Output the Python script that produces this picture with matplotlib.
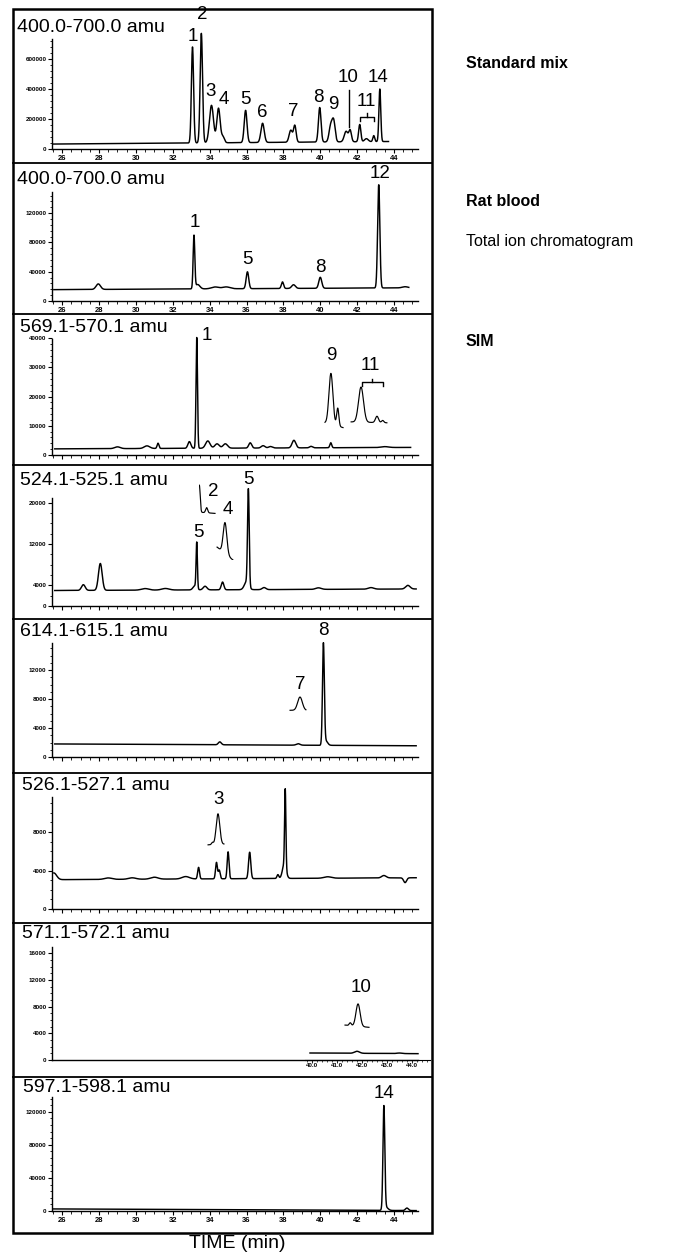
import numpy as np
import matplotlib
matplotlib.use("Agg")
import matplotlib.pyplot as plt
from matplotlib.ticker import FixedLocator, MultipleLocator, NullLocator
from matplotlib.lines import Line2D
from matplotlib.patches import Rectangle

plt.rcParams['font.family'] = ['Liberation Sans', 'DejaVu Sans']

W, H = 676, 1253

# ---------------- data ----------------
TITLES = ['400.0-700.0 amu', '400.0-700.0 amu', '569.1-570.1 amu', '524.1-525.1 amu',
          '614.1-615.1 amu', '526.1-527.1 amu', '571.1-572.1 amu', '597.1-598.1 amu']
SIDE_TEXT = ['Standard mix', 'Rat blood', 'Total ion chromatogram', 'SIM']
TIME_TICKS = [26, 28, 30, 32, 34, 36, 38, 40, 42, 44]
ZOOM_TICKS = [40.0, 41.0, 42.0, 43.0, 44.0]

# peak tables: retention time (min), height above baseline, sigma (min)
# 1) standard mix, total ion
P1_T = [33.07, 33.55, 34.10, 34.48, 34.72, 35.95, 36.87, 38.40, 38.62, 39.97,
        40.57, 40.73, 41.40, 41.62, 42.14, 42.50, 42.90, 43.23]
P1_H = [640000, 730000, 250000, 230000, 40000, 215000, 128000, 80000, 110000, 230000,
        110000, 130000, 70000, 75000, 115000, 20000, 40000, 350000]
P1_W = [0.06, 0.065, 0.11, 0.09, 0.08, 0.075, 0.09, 0.09, 0.07, 0.07,
        0.09, 0.08, 0.1, 0.07, 0.06, 0.1, 0.05, 0.05]
P1_BASE = [33000, 50000]
P1_SPAN = [25.5, 43.7]
P1_YTICKS = [0, 200000, 400000, 600000]
P1_LABELS = ['1', '2', '3', '4', '5', '6', '7', '8', '9', '10', '11', '14']
P1_LAB_T = [33.07, 33.61, 34.04, 34.75, 35.95, 36.87, 38.55, 39.91, 40.73, 41.49, 42.47, 43.12]
P1_LAB_Y = [746700, 893400, 380000, 326700, 326700, 240000, 246700, 340000, 293300,
            473300, 313300, 473300]

# 2) rat blood, total ion
P2_T = [27.96, 33.15, 33.35, 34.3, 34.9, 36.05, 37.95, 38.55, 40.0, 43.17, 44.6]
P2_H = [7500, 72000, 6000, 2500, 2500, 23000, 9000, 5000, 15000, 141000, 1500]
P2_W = [0.12, 0.045, 0.12, 0.2, 0.2, 0.07, 0.06, 0.1, 0.08, 0.06, 0.15]
P2_BASE = [15500, 18000]
P2_SPAN = [25.55, 44.8]
P2_YTICKS = [0, 40000, 80000, 120000]
P2_LABELS = ['1', '5', '8', '12']
P2_LAB_T = [33.17, 36.05, 40.02, 43.23]
P2_LAB_Y = [106500, 56000, 46400, 174700]

# 3) SIM 569.1-570.1
P3_T = [29.0, 30.6, 31.2, 32.9, 33.3, 33.9, 34.4, 34.85, 36.2, 36.9, 37.3, 38.57, 39.5, 40.57, 43.5]
P3_H = [600, 900, 1800, 2300, 38000, 2500, 1500, 1500, 1800, 800, 500, 2600, 500, 1700, 300]
P3_W = [0.15, 0.15, 0.05, 0.08, 0.04, 0.12, 0.12, 0.12, 0.08, 0.1, 0.1, 0.1, 0.08, 0.05, 0.2]
P3_BASE = [2100, 2600]
P3_SPAN = [25.6, 44.9]
P3_YTICKS = [0, 10000, 20000, 30000, 40000]
P3_LABELS = ['1', '9', '11']
P3_LAB_T = [33.86, 40.62, 42.74]
P3_LAB_Y = [41000, 34150, 30700]

# 4) SIM 524.1-525.1
P4_T = [27.15, 28.07, 30.5, 31.6, 33.2, 33.3, 33.75, 34.7, 36.0, 36.1, 36.95, 39.9, 42.75, 44.75]
P4_H = [1100, 5200, 300, 300, 800, 8800, 700, 1500, 1500, 18500, 400, 300, 300, 700]
P4_W = [0.1, 0.1, 0.2, 0.2, 0.1, 0.035, 0.1, 0.07, 0.12, 0.045, 0.1, 0.15, 0.15, 0.12]
P4_BASE = [3000, 3300]
P4_SPAN = [25.6, 45.2]
P4_YTICKS = [0, 4000, 12000, 20000]
P4_LABELS = ['5', '5', '2', '4']
P4_LAB_T = [33.39, 36.1, 34.2, 35.0]
P4_LAB_Y = [14300, 24400, 22100, 18600]

# 5) SIM 614.1-615.1
P5_T = [34.55, 38.8, 40.17, 40.3]
P5_H = [400, 200, 13900, 600]
P5_W = [0.08, 0.1, 0.05, 0.1]
P5_BASE = [1800, 1550]
P5_SPAN = [25.6, 45.2]
P5_YTICKS = [0, 4000, 8000, 12000]
P5_LABELS = ['8', '7']
P5_LAB_T = [40.17, 38.93]
P5_LAB_Y = [17430, 9940]

# 6) SIM 526.1-527.1
P6_T = [25.55, 28.5, 29.8, 31.0, 32.7, 33.4, 34.37, 34.52, 35.0, 36.17, 37.7, 38.05, 38.1,
        40.4, 43.45, 44.6]
P6_H = [700, 150, 150, 200, 250, 1200, 1700, 900, 2800, 2750, 400, 1500, 8000, 150, 250, -500]
P6_W = [0.15, 0.2, 0.2, 0.2, 0.2, 0.05, 0.05, 0.05, 0.05, 0.06, 0.05, 0.1, 0.035, 0.2, 0.12, 0.08]
P6_BASE = [3050, 3250]
P6_SPAN = [25.55, 45.2]
P6_YTICKS = [0, 4000, 8000]
P6_LABELS = ['3']
P6_LAB_T = [34.48]
P6_LAB_Y = [11340]

# 7) SIM 571.1-572.1 (only recorded 40-44 min)
P7_T = [41.8, 43.5]
P7_H = [300, 80]
P7_W = [0.1, 0.1]
P7_BASE = [1050, 950]
P7_SPAN = [39.92, 44.24]
P7_YTICKS = [0, 4000, 8000, 12000, 16000]
P7_LABELS = ['10']
P7_LAB_T = [42.2]
P7_LAB_Y = [10800]

# 8) SIM 597.1-598.1
P8_T = [43.45, 43.55, 44.7]
P8_H = [124000, 4000, 3000]
P8_W = [0.05, 0.12, 0.08]
P8_BASE = [2500, 500]
P8_SPAN = [25.5, 45.2]
P8_YTICKS = [0, 40000, 80000, 120000]
P8_LABELS = ['14']
P8_LAB_T = [43.45]
P8_LAB_Y = [142600]

# magnified insets (relative units)
IN9_T, IN9_H, IN9_W, IN9_BASE, IN9_SPAN = [0.36, 0.67], [0.85, 0.3], [0.09, 0.05], [0.12, 0.04], [0.09, 0.91]
IN11_T, IN11_H, IN11_W, IN11_BASE, IN11_SPAN = [0.29, 0.71, 0.86], [0.78, 0.14, 0.05], [0.065, 0.04, 0.03], [0.18, 0.16], [0.03, 0.97]
IN2_T, IN2_H, IN2_W, IN2_BASE, IN2_SPAN = [0.02, 0.45], [0.9, 0.17], [0.05, 0.06], [0.06, 0.02], [0.02, 0.94]
IN4_T, IN4_H, IN4_W, IN4_BASE, IN4_SPAN = [0.5], [0.72], [0.1], [0.3, 0.0], [0.06, 0.94]
IN7_T, IN7_H, IN7_W, IN7_BASE, IN7_SPAN = [0.61], [0.78], [0.13], [0.1, 0.1], [0.06, 0.94]
IN3_T, IN3_H, IN3_W, IN3_BASE, IN3_SPAN = [0.3, 0.61], [0.06, 0.85], [0.05, 0.1], [0.06, 0.08], [0.06, 0.94]
IN10_T, IN10_H, IN10_W, IN10_BASE, IN10_SPAN = [0.24, 0.54], [0.1, 0.8], [0.04, 0.08], [0.14, 0.06], [0.04, 0.96]

# ---------------- layout (pixels) ----------------
BOX_L, BOX_R = 13, 432
PANEL_TOP = [9, 163, 314, 465, 619, 773, 923, 1077, 1233]
AXIS_Y = [149, 301, 455, 606, 757, 909, 1060, 1211]
X_LEFT, X_RIGHT = 52, 418
XLIM = (25.45, 45.3)
YTOP = [933000, 188400, 48300, 27300, 19040, 14140, 20550, 162000]
SPINE_TOP = [733000, 148800, 39700, 20900, 15730, 11650, 16950, 137800]
MINOR = [40000, 8000, 2000, 2000, 1000, 1000, 1000, 8000]
TITLE_POS = [(17, 28), (17, 180), (20, 328), (20, 480), (20, 631), (22, 785), (22, 934), (23, 1087)]
LW = 1.05

panels = [
    (P1_T, P1_H, P1_W, P1_BASE, P1_SPAN, P1_YTICKS, P1_LABELS, P1_LAB_T, P1_LAB_Y),
    (P2_T, P2_H, P2_W, P2_BASE, P2_SPAN, P2_YTICKS, P2_LABELS, P2_LAB_T, P2_LAB_Y),
    (P3_T, P3_H, P3_W, P3_BASE, P3_SPAN, P3_YTICKS, P3_LABELS, P3_LAB_T, P3_LAB_Y),
    (P4_T, P4_H, P4_W, P4_BASE, P4_SPAN, P4_YTICKS, P4_LABELS, P4_LAB_T, P4_LAB_Y),
    (P5_T, P5_H, P5_W, P5_BASE, P5_SPAN, P5_YTICKS, P5_LABELS, P5_LAB_T, P5_LAB_Y),
    (P6_T, P6_H, P6_W, P6_BASE, P6_SPAN, P6_YTICKS, P6_LABELS, P6_LAB_T, P6_LAB_Y),
    (P7_T, P7_H, P7_W, P7_BASE, P7_SPAN, P7_YTICKS, P7_LABELS, P7_LAB_T, P7_LAB_Y),
    (P8_T, P8_H, P8_W, P8_BASE, P8_SPAN, P8_YTICKS, P8_LABELS, P8_LAB_T, P8_LAB_Y),
]


def chrom(span, base, times, heights, widths, n=4000):
    t = np.linspace(span[0], span[1], n)
    y = np.linspace(base[0], base[1], n)
    for t0, h, w in zip(times, heights, widths):
        y = y + h * np.exp(-0.5 * ((t - t0) / w) ** 2)
    return t, y


def add_px_axes(fig, x0, top, x1, bottom):
    return fig.add_axes([x0 / W, 1 - bottom / H, (x1 - x0) / W, (bottom - top) / H])


fig = plt.figure(figsize=(W / 100, H / 100), dpi=100)

axes = []
for i, (times, heights, widths, base, span, yticks, labs, lab_t, lab_y) in enumerate(panels):
    ax = add_px_axes(fig, X_LEFT, PANEL_TOP[i], X_RIGHT, AXIS_Y[i])
    ax.patch.set_alpha(0)
    ax.set_xlim(*XLIM)
    ax.set_ylim(0, YTOP[i])
    for s in ['top', 'right']:
        ax.spines[s].set_visible(False)
    ax.spines['left'].set_bounds(0, SPINE_TOP[i])
    ax.spines['left'].set_linewidth(1.0)
    ax.spines['bottom'].set_linewidth(1.0)

    ax.yaxis.set_major_locator(FixedLocator(yticks))
    ax.yaxis.set_minor_locator(FixedLocator(np.arange(0, SPINE_TOP[i], MINOR[i])))
    ax.set_yticklabels([str(v) for v in yticks], fontsize=4.5, fontweight='bold')
    ax.tick_params(axis='y', which='major', length=3, width=0.8, pad=1)
    ax.tick_params(axis='y', which='minor', length=1.5, width=0.6)

    if i == 6:
        ax.xaxis.set_major_locator(NullLocator())
        ax.xaxis.set_minor_locator(NullLocator())
    else:
        ax.xaxis.set_major_locator(FixedLocator(TIME_TICKS))
        ax.xaxis.set_minor_locator(MultipleLocator(0.5))
        ax.tick_params(axis='x', which='major', length=3, width=0.8, pad=1.5)
        ax.tick_params(axis='x', which='minor', length=1.8, width=0.6)
        if i in (0, 1, 7):
            ax.set_xticklabels([str(v) for v in TIME_TICKS], fontsize=5.5, fontweight='bold')
        else:
            ax.set_xticklabels([])

    if i != 6:
        t, y = chrom(span, base, times, heights, widths)
        ax.plot(t, y, color='black', lw=LW, clip_on=False)

    for lab, lt, ly in zip(labs, lab_t, lab_y):
        ax.text(lt, ly, lab, ha='center', va='center', fontsize=13.5)
    axes.append(ax)

# panel 7: the trace on its own expanded time axis
zx0, zx1 = 305, 430
zax = add_px_axes(fig, zx0, PANEL_TOP[6], zx1, AXIS_Y[6])
zax.patch.set_alpha(0)
zax.set_xlim(40.0 - (312 - zx0) / 25.0, 40.0 + (zx1 - 312) / 25.0)
zax.set_ylim(0, YTOP[6])
for s in ['top', 'right', 'left']:
    zax.spines[s].set_visible(False)
zax.spines['bottom'].set_linewidth(0.8)
zax.yaxis.set_major_locator(NullLocator())
zax.xaxis.set_major_locator(FixedLocator(ZOOM_TICKS))
zax.xaxis.set_minor_locator(MultipleLocator(0.2))
zax.set_xticklabels([f'{v:.1f}' for v in ZOOM_TICKS], fontsize=4.5, fontweight='bold')
zax.tick_params(axis='x', which='major', length=2, width=0.6, pad=0.5)
zax.tick_params(axis='x', which='minor', length=1.2, width=0.5)
t7, y7 = chrom(P7_SPAN, P7_BASE, P7_T, P7_H, P7_W, 1000)
zax.plot(t7, y7, color='black', lw=LW)

# brackets / pointer lines
ax1 = axes[0]
ax1.plot([41.55, 41.55], [393000, 147000], color='black', lw=1.0)
ax1.plot([42.15, 42.15, 42.9, 42.9], [187000, 213000, 213000, 187000], color='black', lw=1.0)
ax1.plot([42.52, 42.52], [213000, 240000], color='black', lw=1.0)
ax3 = axes[2]
ax3.plot([42.25, 42.25, 43.39, 43.39], [23800, 24900, 24900, 23800], color='black', lw=1.0)
ax3.plot([42.82, 42.82], [24900, 26200], color='black', lw=1.0)

# magnified insets
insets = [
    ((323, 370, 345, 430), IN9_SPAN, IN9_BASE, IN9_T, IN9_H, IN9_W),
    ((350, 385, 388, 430), IN11_SPAN, IN11_BASE, IN11_T, IN11_H, IN11_W),
    ((199, 484, 216, 514), IN2_SPAN, IN2_BASE, IN2_T, IN2_H, IN2_W),
    ((216, 517, 234, 560), IN4_SPAN, IN4_BASE, IN4_T, IN4_H, IN4_W),
    ((289, 695, 307, 712), IN7_SPAN, IN7_BASE, IN7_T, IN7_H, IN7_W),
    ((207, 811, 225, 847), IN3_SPAN, IN3_BASE, IN3_T, IN3_H, IN3_W),
    ((344, 1001, 370, 1029), IN10_SPAN, IN10_BASE, IN10_T, IN10_H, IN10_W),
]
for box, span, base, times, heights, widths in insets:
    iax = add_px_axes(fig, *box)
    iax.set_axis_off()
    t, y = chrom(span, base, times, heights, widths, 400)
    iax.plot(t, y, color='black', lw=0.85)
    iax.set_xlim(0, 1)
    iax.set_ylim(0, 1)

# titles of each trace
for title, (tx, ty) in zip(TITLES, TITLE_POS):
    fig.text(tx / W, 1 - ty / H, title, ha='left', va='center', fontsize=14)

# frame and separators
fig.add_artist(Rectangle((BOX_L / W, 1 - PANEL_TOP[-1] / H), (BOX_R - BOX_L) / W,
                         (PANEL_TOP[-1] - PANEL_TOP[0]) / H, fill=False, lw=1.8,
                         edgecolor='black', transform=fig.transFigure))
for yb in PANEL_TOP[1:-1]:
    fig.add_artist(Line2D([BOX_L / W, BOX_R / W], [1 - yb / H, 1 - yb / H],
                          color='black', lw=1.3, transform=fig.transFigure))

# side annotations
fig.text(466 / W, 1 - 63 / H, SIDE_TEXT[0], fontsize=11.5, fontweight='bold', va='center')
fig.text(466 / W, 1 - 202 / H, SIDE_TEXT[1], fontsize=11.5, fontweight='bold', va='center')
fig.text(466 / W, 1 - 242 / H, SIDE_TEXT[2], fontsize=11.5, va='center')
fig.text(466 / W, 1 - 342 / H, SIDE_TEXT[3], fontsize=11.5, fontweight='bold', va='center')

fig.text(237 / W, 1 - 1243 / H, 'TIME (min)', ha='center', va='center', fontsize=14)

fig.savefig('out.png', dpi=100)
